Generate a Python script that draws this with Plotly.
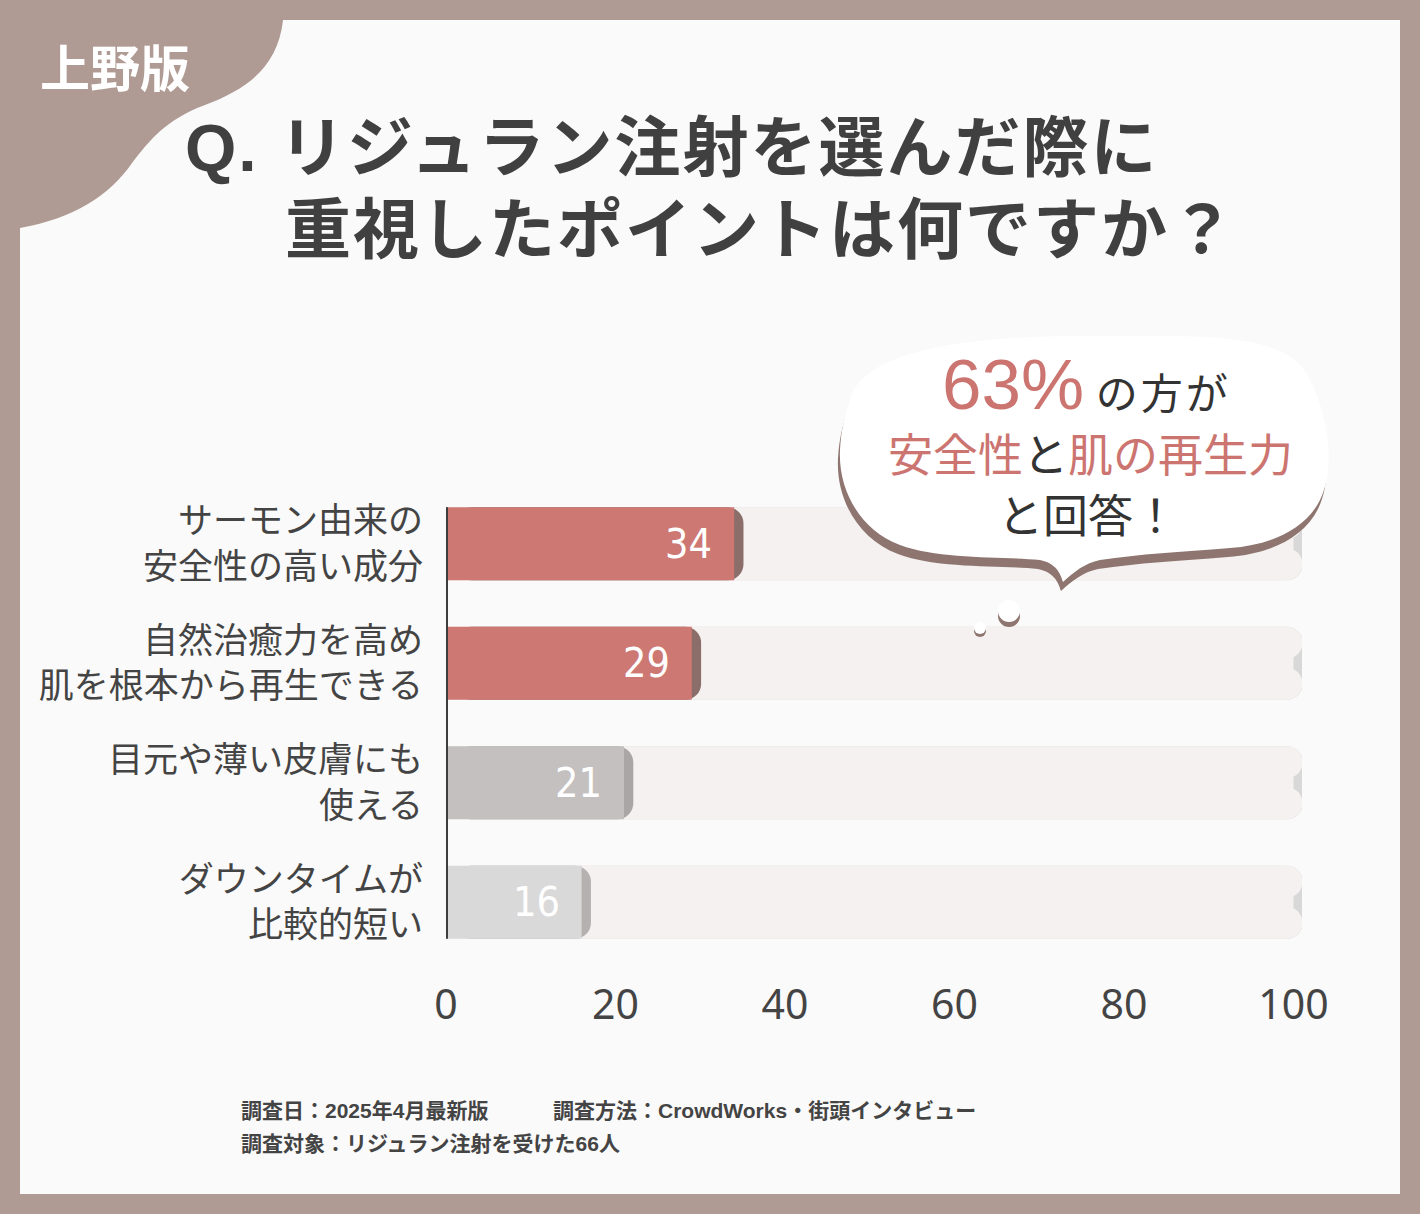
import plotly.graph_objects as go

# data
categories = ["サーモン由来の<br>安全性の高い成分",
              "自然治癒力を高め<br>肌を根本から再生できる",
              "目元や薄い皮膚にも<br>使える",
              "ダウンタイムが<br>比較的短い"]
values = [34, 29, 21, 16]
full_scale = [100, 100, 100, 100]
x_ticks = [0, 20, 40, 60, 80, 100]

bar_colors = ["#cd7873", "#cd7873", "#c3c0bf", "#dad9d9"]
shadow_colors = ["#8b6e6a", "#8b6e6a", "#a9a6a5", "#b4b2b1"]
RED = "#cc7470"
DARK = "#404040"

W, H = 1420, 1214
L, R, T, B = 446, 118, 484, 252
JP = "Liberation Sans, Noto Sans CJK JP"


def px(x):
    return (x - L) / (W - L - R)


def py(y):
    return (H - B - y) / (H - T - B)


def path(segs):
    out = ""
    for cmd, pts in segs:
        out += cmd + " " + " ".join("%.5f,%.5f" % (px(a), py(b)) for a, b in pts) + " "
    return out + "Z"


ypos = list(range(len(categories)))
bw = 0.61
shift = 1.1  # shadow offset, in axis units

fig = go.Figure()
# background tracks
fig.add_trace(go.Bar(y=ypos, x=full_scale, base=shift, orientation="h", width=bw,
                     marker=dict(color="#d9d8d8", cornerradius=16, line_width=0),
                     hoverinfo="skip"))
fig.add_trace(go.Bar(y=ypos, x=full_scale, orientation="h", width=bw,
                     marker=dict(color="#f4f1f0", cornerradius=16, line_width=0),
                     hoverinfo="skip"))
# value bars with shadow
fig.add_trace(go.Bar(y=ypos, x=values, base=shift, orientation="h", width=bw,
                     marker=dict(color=shadow_colors, cornerradius=16, line_width=0),
                     hoverinfo="skip"))
fig.add_trace(go.Bar(y=ypos, x=values, orientation="h", width=bw,
                     marker=dict(color=bar_colors, cornerradius=16, line_width=0),
                     hoverinfo="skip"))

for i, v in enumerate(values):
    fig.add_annotation(x=v, y=i, xref="x", yref="y", text=str(v), showarrow=False,
                       xanchor="right", xshift=-20,
                       font=dict(family="Liberation Sans Narrow, DejaVu Sans Condensed, Roboto",
                                 size=41, color="white"))

shapes = [
    # panel
    dict(type="rect", xref="paper", yref="paper", x0=px(20), x1=px(1400), y0=py(1194), y1=py(20),
         fillcolor="#fafafa", line_width=0, layer="below"),
    # corner blob
    dict(type="path", xref="paper", yref="paper", layer="below", fillcolor="#b09b94", line_width=0,
         path=path([("M", [(20, 20)]), ("L", [(283, 20)]),
                    ("C", [(278, 65), (250, 88), (205, 105)]),
                    ("C", [(165, 120), (150, 140), (132, 163)]),
                    ("C", [(110, 195), (75, 218), (20, 228)])])),
    # axis line
    dict(type="line", xref="x", yref="y", x0=0, x1=0, y0=-bw / 2, y1=ypos[-1] + bw / 2,
         line=dict(color="#3d3d3d", width=4)),
]

bubble = [("M", [(850, 400)]),
          ("C", [(862, 352), (960, 336), (1080, 336)]),
          ("C", [(1200, 336), (1288, 330), (1310, 380)]),
          ("C", [(1330, 420), (1335, 470), (1320, 500)]),
          ("C", [(1305, 530), (1270, 545), (1230, 548)]),
          ("C", [(1180, 552), (1140, 554), (1100, 560)]),
          ("C", [(1085, 563), (1074, 572), (1063, 582)]),
          ("C", [(1060, 572), (1055, 563), (1040, 560)]),
          ("C", [(1000, 556), (940, 560), (900, 545)]),
          ("C", [(860, 530), (838, 490), (840, 450)]),
          ("C", [(841, 430), (845, 415), (850, 400)])]
shadow = [(c, [(a - 2, b + 9) for a, b in p]) for c, p in bubble]
shapes.append(dict(type="path", xref="paper", yref="paper", layer="above",
                   fillcolor="#8e7570", line_width=0, path=path(shadow)))
shapes.append(dict(type="path", xref="paper", yref="paper", layer="above",
                   fillcolor="#ffffff", line_width=0, path=path(bubble)))
for cx, cy, r, d in [(980, 631, 6, 3), (1009, 616, 11, 5)]:
    shapes.append(dict(type="circle", xref="paper", yref="paper", layer="above",
                       x0=px(cx - r), x1=px(cx + r), y0=py(cy + r), y1=py(cy - r),
                       fillcolor="#8e7570", line_width=0))
    shapes.append(dict(type="circle", xref="paper", yref="paper", layer="above",
                       x0=px(cx - r), x1=px(cx + r), y0=py(cy + r - d), y1=py(cy - r - d),
                       fillcolor="#ffffff", line_width=0))

spaced = "<span style='letter-spacing:2px'>%s</span>"

ann = [
    dict(x=px(38), y=py(70), text="<b>上野版</b>", xanchor="left",
         font=dict(family=JP, size=50, color="white")),
    dict(x=px(183), y=py(148), xanchor="left",
         text="<b>" + spaced % "Q. リジュラン注射を選んだ際に" + "</b>",
         font=dict(family=JP, size=66, color=DARK)),
    dict(x=px(283), y=py(230), xanchor="left",
         text="<b>" + spaced % "重視したポイントは何ですか？" + "</b>",
         font=dict(family=JP, size=66, color=DARK)),
    dict(x=px(1086), y=py(384), xanchor="center",
         text="<span style='font-size:71px;color:%s'>63%%</span> <span style='letter-spacing:3px'>の方が</span>" % RED,
         font=dict(family=JP, size=42, color="#333333")),
    dict(x=px(1090), y=py(457), xanchor="center",
         text="<span style='color:%s'>安全性</span>と<span style='color:%s'>肌の再生力</span>" % (RED, RED),
         font=dict(family=JP, size=45, color="#333333")),
    dict(x=px(1088), y=py(517), xanchor="center", text="と回答！",
         font=dict(family=JP, size=45, color="#333333")),
    dict(x=px(239), y=py(1110), text="<b>調査日：2025年4月最新版</b>", xanchor="left",
         font=dict(family=JP, size=21, color="#444444")),
    dict(x=px(551), y=py(1110), text="<b>調査方法：CrowdWorks・街頭インタビュー</b>", xanchor="left",
         font=dict(family=JP, size=21, color="#444444")),
    dict(x=px(239), y=py(1143), text="<b>調査対象：リジュラン注射を受けた66人</b>", xanchor="left",
         font=dict(family=JP, size=21, color="#444444")),
]
for a in ann:
    a.update(xref="paper", yref="paper", showarrow=False, yanchor="middle")
    fig.add_annotation(**a)

fig.update_layout(
    width=W, height=H,
    margin=dict(l=L, r=R, t=T, b=B, autoexpand=False),
    paper_bgcolor="#b09b94",
    plot_bgcolor="rgba(0,0,0,0)",
    barmode="overlay",
    showlegend=False,
    shapes=shapes,
    xaxis=dict(range=[0, 101], tickvals=x_ticks, showgrid=False, zeroline=False,
               showline=False, ticks="", ticklabelstandoff=15, fixedrange=True,
               tickfont=dict(family="Noto Sans", size=41, color="#444444")),
    yaxis=dict(range=[3.5, -0.5], tickvals=ypos, ticktext=categories, showgrid=False,
               zeroline=False, showline=False, ticks="", ticklabelstandoff=22,
               automargin=False, fixedrange=True,
               tickfont=dict(family=JP, size=35, color="#444444")),
)

fig.write_html("out.html", config={"displayModeBar": False},
               post_script="document.body.style.margin='0';")
